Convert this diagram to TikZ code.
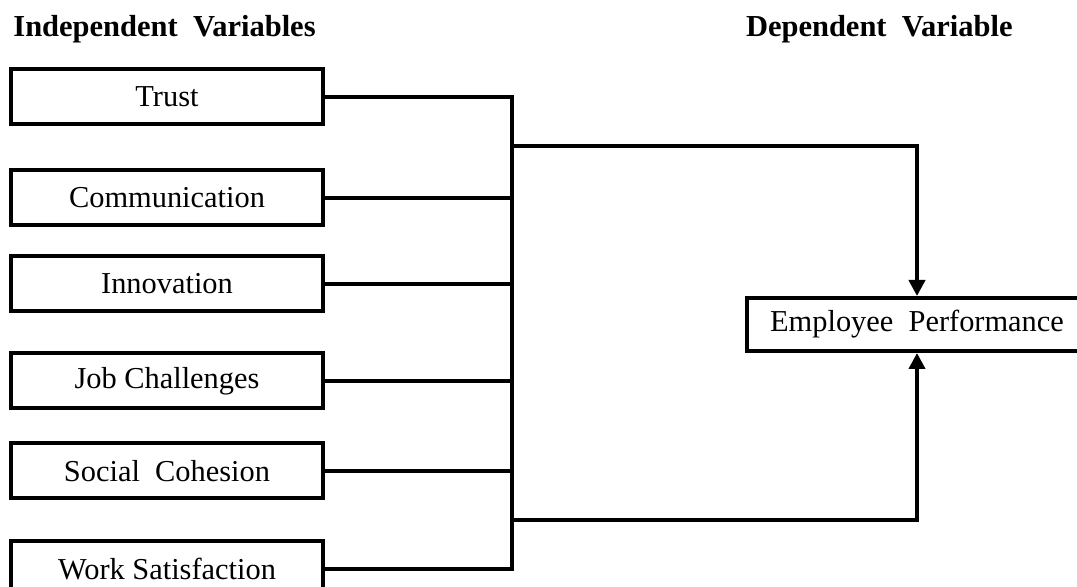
\documentclass[tikz,border=0pt]{standalone}
\usepackage{fontspec}
\setmainfont{Liberation Serif}
\usetikzlibrary{arrows.meta}

\begin{document}
\begin{tikzpicture}[x=0.5pt, y=-0.5pt, font=\fontsize{15.2}{18}\selectfont,
	var/.style={draw, line width=2pt, minimum width=156pt, minimum height=27.5pt, inner sep=0pt},
	head/.style={inner sep=0pt, font=\fontsize{15.25}{18}\selectfont\bfseries},
	link/.style={line width=2pt},
	flow/.style={line width=2pt, -{Triangle[length=8pt,width=8pt]}}]
	\clip (0,0) rectangle (1077,587);

	\node[head, anchor=base west] (indep) at (13,37) {Independent\ \ Variables};
	\node[head, anchor=base east] (dep) at (1013,37) {Dependent\ \ Variable};

	\node[var] (trust) at (167,97) {Trust};
	\node[var] (comm) at (167,198) {Communication};
	\node[var] (innov) at (167,284) {Innovation};
	\node[var] (job) at (167,381) {Job Challenges};
	\node[var] (social) at (167,471) {Social\ \ Cohesion};
	\node[var] (work) at (167,569) {Work Satisfaction};

	\node[var, minimum width=170pt, minimum height=26.5pt, anchor=west] (perf) at (745,324.5) {Employee\ \ Performance};

	\coordinate (bus) at (512,0);
	\coordinate (jtop) at (512,146);
	\coordinate (jbot) at (512,520);

	% inputs into the bus
	\draw[link] (trust.east) -| (bus |- work.east) -- (work.east);
	\draw[link] (comm.east) -- (comm.east -| bus);
	\draw[link] (innov.east) -- (innov.east -| bus);
	\draw[link] (job.east) -- (job.east -| bus);
	\draw[link] (social.east) -- (social.east -| bus);

	% to the dependent variable
	\draw[flow] (jtop) -| (perf.north);
	\draw[flow] (jbot) -| (perf.south);
\end{tikzpicture}
\end{document}
